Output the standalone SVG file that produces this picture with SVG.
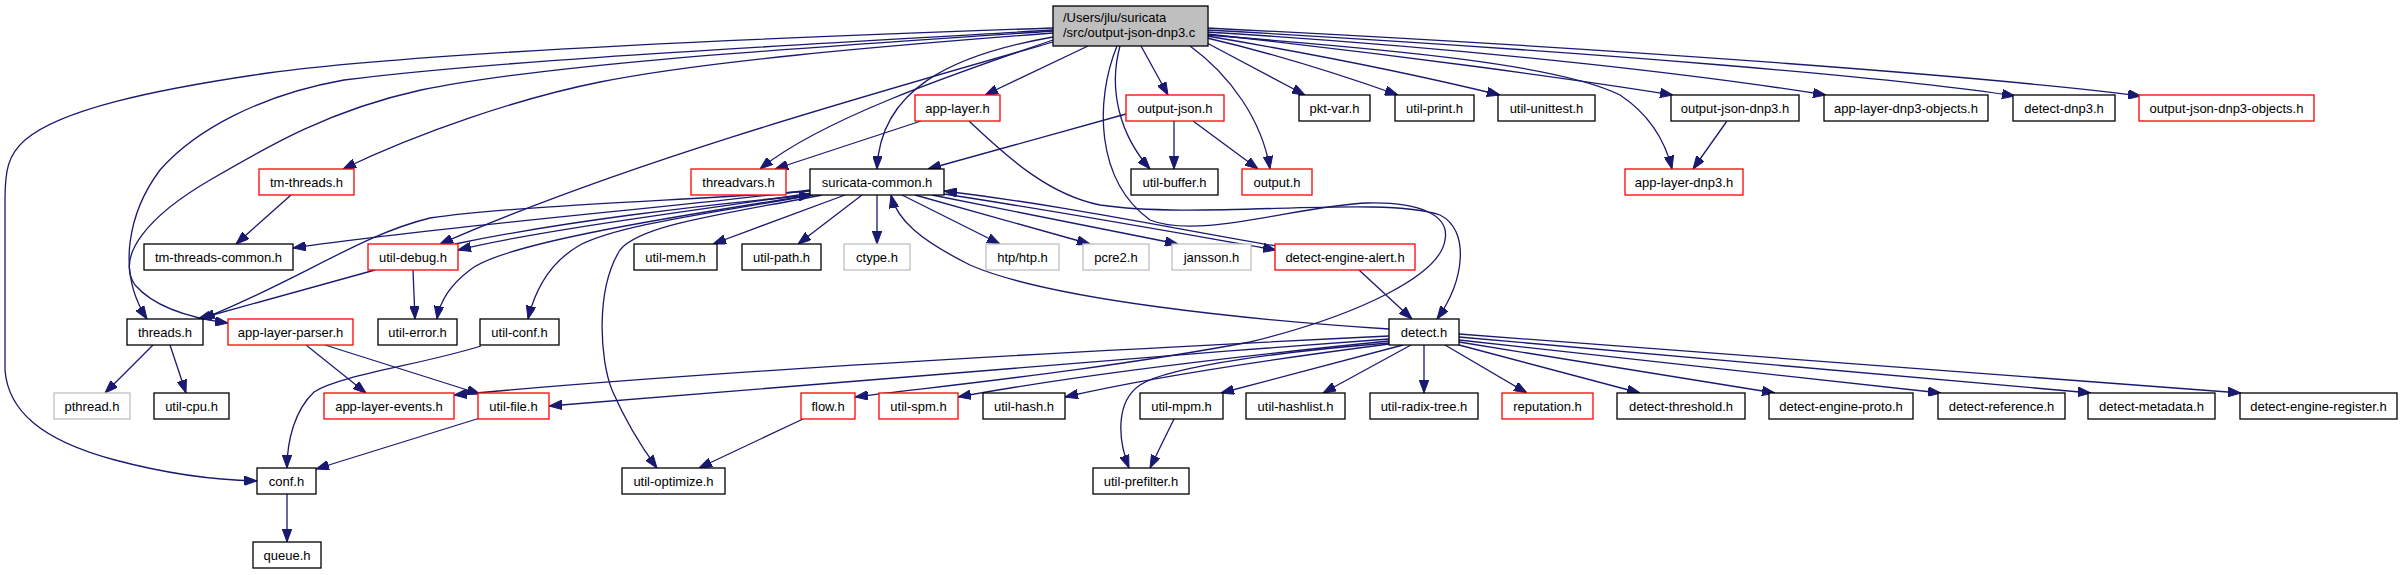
<svg xmlns="http://www.w3.org/2000/svg" width="2403" height="575" viewBox="0 0 2403 575">
<style>
.n rect{fill:#fff;stroke:#000;stroke-width:1.3}
.n.r rect{stroke:#ff0000}
.n.g rect{stroke:#bfbfbf}
.n.root rect{fill:#bfbfbf}
text{font-family:"Liberation Sans",Arial,Helvetica,sans-serif;font-size:13px;fill:#000;text-anchor:middle}
.root text{text-anchor:start}
#edges path{fill:none;stroke:#191970;stroke-width:1.3;marker-end:url(#a)}
</style>
<defs>
<marker id="a" viewBox="0 0 13 9.5" refX="13" refY="4.75" markerWidth="13" markerHeight="9.5" markerUnits="userSpaceOnUse" orient="auto">
<path d="M0,0 L13,4.75 L0,9.5 Z" fill="#191970" stroke="#191970" stroke-width="1"/>
</marker>
</defs>
<rect width="2403" height="575" fill="#fff"/>
<g id="edges">
<path d="M1053,33 C870,47 700,62 600,82 C520,98 420,132 343,169"/>
<path d="M1053,30 C800,45 500,60 344,80 C260,95 195,130 160,170 C130,210 115,270 147,319"/>
<path d="M1053,31 C820,47 560,62 421,90 C330,110 270,145 210,180 C150,215 115,255 135,285 C155,308 190,318 228,323"/>
<path d="M1053,28 C700,40 400,55 268,73 C150,90 60,110 25,140 C8,155 5,170 5,200 L5,370 C8,410 40,440 115,460 C160,472 210,480 257,481"/>
<path d="M1053,42 C850,100 620,165 440,244"/>
<path d="M1053,40 C950,75 820,120 760,169"/>
<path d="M1053,37 C950,55 880,90 877,169"/>
<path d="M1088,46 L985,95"/>
<path d="M1141,46 L1168,95"/>
<path d="M1120,46 C1108,90 1120,135 1150,169"/>
<path d="M1190,46 C1230,75 1262,120 1270,169"/>
<path d="M1207,43 L1305,95"/>
<path d="M1207,38 C1280,55 1350,78 1398,95"/>
<path d="M1207,36 C1320,55 1430,78 1500,95"/>
<path d="M1207,34 C1400,55 1580,80 1673,95"/>
<path d="M1207,32 C1500,50 1720,78 1826,95"/>
<path d="M1207,30 C1600,52 1900,78 2015,96"/>
<path d="M1207,28 C1650,50 2000,78 2141,96"/>
<path d="M1207,35 C1400,50 1560,65 1620,95 C1650,115 1665,140 1672,169"/>
<path d="M969,121 C1010,160 1050,195 1100,205 C1200,220 1380,195 1440,215 C1470,230 1465,280 1437,319"/>
<path d="M1117,46 C1095,100 1095,180 1150,220 C1200,240 1300,205 1368,203 C1420,202 1450,215 1445,240 C1440,275 1360,315 1250,342 C1100,370 950,385 855,397"/>
<path d="M1126,114 L928,169"/>
<path d="M1174,121 L1174,169"/>
<path d="M1193,121 L1258,169"/>
<path d="M921,121 L775,169"/>
<path d="M291,195 L236,244"/>
<path d="M1727,121 L1693,169"/>
<path d="M810,190 C700,205 450,225 293,248"/>
<path d="M812,193 C700,210 540,230 458,250"/>
<path d="M455,244 C560,222 700,205 812,195"/>
<path d="M810,191 C700,200 520,205 430,218 C360,235 300,280 202,319"/>
<path d="M812,195 C650,220 500,245 470,270 C450,285 440,300 437,319"/>
<path d="M813,195 C700,215 620,225 580,245 C550,262 535,290 528,319"/>
<path d="M822,195 C720,215 640,225 620,250 C595,290 600,360 612,390 C625,420 640,445 657,468"/>
<path d="M845,195 L713,244"/>
<path d="M862,195 L798,244"/>
<path d="M877,195 L877,244"/>
<path d="M902,195 L1000,244"/>
<path d="M915,195 L1090,244"/>
<path d="M932,195 L1178,244"/>
<path d="M944,194 C1050,210 1150,228 1276,250"/>
<path d="M1276,246 C1150,224 1060,205 944,191"/>
<path d="M1389,329 C1250,320 1050,300 970,265 C920,240 897,220 891,195"/>
<path d="M375,270 L198,319"/>
<path d="M413,270 L415,319"/>
<path d="M1359,270 L1412,319"/>
<path d="M153,345 L105,393"/>
<path d="M170,345 L186,393"/>
<path d="M306,345 L366,393"/>
<path d="M325,345 L480,394"/>
<path d="M481,346 C420,365 340,375 314,392 C295,410 287,440 287,468"/>
<path d="M480,418 L316,469"/>
<path d="M287,494 L287,542"/>
<path d="M803,419 L699,468"/>
<path d="M1174,419 L1150,468"/>
<path d="M1389,343 C1300,350 1170,365 1140,385 C1115,402 1118,440 1129,468"/>
<path d="M1389,336 C1100,350 700,372 454,395"/>
<path d="M1389,339 C1100,360 800,385 549,406"/>
<path d="M1389,341 C1200,360 1050,380 958,397"/>
<path d="M1389,344 C1250,362 1130,382 1065,397"/>
<path d="M1403,345 L1221,393"/>
<path d="M1411,345 L1323,393"/>
<path d="M1424,345 L1424,393"/>
<path d="M1445,345 L1527,393"/>
<path d="M1459,345 L1640,393"/>
<path d="M1459,342 L1775,393"/>
<path d="M1459,340 L1941,393"/>
<path d="M1459,337 L2091,393"/>
<path d="M1459,334 L2241,393"/>
</g>
<g id="root" class="n root"><rect x="1053" y="6" width="155" height="40"/><text x="1063" y="22">/Users/jlu/suricata</text><text x="1063" y="37">/src/output-json-dnp3.c</text></g>
<g id="app-layer" class="n r"><rect x="915" y="95" width="85" height="26"/><text x="957.5" y="113">app-layer.h</text></g>
<g id="output-json" class="n r"><rect x="1126" y="95" width="98" height="26"/><text x="1175" y="113">output-json.h</text></g>
<g id="pkt-var" class="n"><rect x="1299" y="95" width="71" height="26"/><text x="1334.5" y="113">pkt-var.h</text></g>
<g id="util-print" class="n"><rect x="1395" y="95" width="79" height="26"/><text x="1434.5" y="113">util-print.h</text></g>
<g id="util-unittest" class="n"><rect x="1498" y="95" width="97" height="26"/><text x="1546.5" y="113">util-unittest.h</text></g>
<g id="output-json-dnp3" class="n"><rect x="1671" y="95" width="128" height="26"/><text x="1735" y="113">output-json-dnp3.h</text></g>
<g id="app-layer-dnp3-objects" class="n"><rect x="1824" y="95" width="164" height="26"/><text x="1906" y="113">app-layer-dnp3-objects.h</text></g>
<g id="detect-dnp3" class="n"><rect x="2013" y="95" width="102" height="26"/><text x="2064" y="113">detect-dnp3.h</text></g>
<g id="output-json-dnp3-objects" class="n r"><rect x="2139" y="95" width="175" height="26"/><text x="2226.5" y="113">output-json-dnp3-objects.h</text></g>
<g id="tm-threads" class="n r"><rect x="259" y="169" width="95" height="26"/><text x="306.5" y="187">tm-threads.h</text></g>
<g id="threadvars" class="n r"><rect x="691" y="169" width="95" height="26"/><text x="738.5" y="187">threadvars.h</text></g>
<g id="suricata-common" class="n"><rect x="810" y="169" width="134" height="26"/><text x="877" y="187">suricata-common.h</text></g>
<g id="util-buffer" class="n"><rect x="1131" y="169" width="87" height="26"/><text x="1174.5" y="187">util-buffer.h</text></g>
<g id="output" class="n r"><rect x="1242" y="169" width="70" height="26"/><text x="1277" y="187">output.h</text></g>
<g id="app-layer-dnp3" class="n r"><rect x="1625" y="169" width="118" height="26"/><text x="1684" y="187">app-layer-dnp3.h</text></g>
<g id="tm-threads-common" class="n"><rect x="144" y="244" width="149" height="26"/><text x="218.5" y="262">tm-threads-common.h</text></g>
<g id="util-debug" class="n r"><rect x="368" y="244" width="90" height="26"/><text x="413" y="262">util-debug.h</text></g>
<g id="util-mem" class="n"><rect x="634" y="244" width="83" height="26"/><text x="675.5" y="262">util-mem.h</text></g>
<g id="util-path" class="n"><rect x="742" y="244" width="79" height="26"/><text x="781.5" y="262">util-path.h</text></g>
<g id="ctype" class="n g"><rect x="844" y="244" width="66" height="26"/><text x="877" y="262">ctype.h</text></g>
<g id="htp" class="n g"><rect x="986" y="244" width="73" height="26"/><text x="1022.5" y="262">htp/htp.h</text></g>
<g id="pcre2" class="n g"><rect x="1083" y="244" width="66" height="26"/><text x="1116" y="262">pcre2.h</text></g>
<g id="jansson" class="n g"><rect x="1172" y="244" width="79" height="26"/><text x="1211.5" y="262">jansson.h</text></g>
<g id="detect-engine-alert" class="n r"><rect x="1275" y="244" width="140" height="26"/><text x="1345" y="262">detect-engine-alert.h</text></g>
<g id="threads" class="n"><rect x="127" y="319" width="76" height="26"/><text x="165" y="337">threads.h</text></g>
<g id="app-layer-parser" class="n r"><rect x="228" y="319" width="125" height="26"/><text x="290.5" y="337">app-layer-parser.h</text></g>
<g id="util-error" class="n"><rect x="378" y="319" width="79" height="26"/><text x="417.5" y="337">util-error.h</text></g>
<g id="util-conf" class="n"><rect x="480" y="319" width="79" height="26"/><text x="519.5" y="337">util-conf.h</text></g>
<g id="detect" class="n"><rect x="1389" y="319" width="70" height="26"/><text x="1424" y="337">detect.h</text></g>
<g id="pthread" class="n g"><rect x="54" y="393" width="76" height="26"/><text x="92" y="411">pthread.h</text></g>
<g id="util-cpu" class="n"><rect x="154" y="393" width="75" height="26"/><text x="191.5" y="411">util-cpu.h</text></g>
<g id="app-layer-events" class="n r"><rect x="324" y="393" width="130" height="26"/><text x="389" y="411">app-layer-events.h</text></g>
<g id="util-file" class="n r"><rect x="478" y="393" width="71" height="26"/><text x="513.5" y="411">util-file.h</text></g>
<g id="flow" class="n r"><rect x="801" y="393" width="54" height="26"/><text x="828" y="411">flow.h</text></g>
<g id="util-spm" class="n r"><rect x="879" y="393" width="79" height="26"/><text x="918.5" y="411">util-spm.h</text></g>
<g id="util-hash" class="n"><rect x="983" y="393" width="82" height="26"/><text x="1024" y="411">util-hash.h</text></g>
<g id="util-mpm" class="n"><rect x="1140" y="393" width="83" height="26"/><text x="1181.5" y="411">util-mpm.h</text></g>
<g id="util-hashlist" class="n"><rect x="1246" y="393" width="99" height="26"/><text x="1295.5" y="411">util-hashlist.h</text></g>
<g id="util-radix-tree" class="n"><rect x="1370" y="393" width="108" height="26"/><text x="1424" y="411">util-radix-tree.h</text></g>
<g id="reputation" class="n r"><rect x="1502" y="393" width="91" height="26"/><text x="1547.5" y="411">reputation.h</text></g>
<g id="detect-threshold" class="n"><rect x="1617" y="393" width="128" height="26"/><text x="1681" y="411">detect-threshold.h</text></g>
<g id="detect-engine-proto" class="n"><rect x="1769" y="393" width="144" height="26"/><text x="1841" y="411">detect-engine-proto.h</text></g>
<g id="detect-reference" class="n"><rect x="1938" y="393" width="127" height="26"/><text x="2001.5" y="411">detect-reference.h</text></g>
<g id="detect-metadata" class="n"><rect x="2088" y="393" width="127" height="26"/><text x="2151.5" y="411">detect-metadata.h</text></g>
<g id="detect-engine-register" class="n"><rect x="2240" y="393" width="157" height="26"/><text x="2318.5" y="411">detect-engine-register.h</text></g>
<g id="conf" class="n"><rect x="257" y="468" width="59" height="26"/><text x="286.5" y="486">conf.h</text></g>
<g id="util-optimize" class="n"><rect x="622" y="468" width="103" height="26"/><text x="673.5" y="486">util-optimize.h</text></g>
<g id="util-prefilter" class="n"><rect x="1093" y="468" width="96" height="26"/><text x="1141" y="486">util-prefilter.h</text></g>
<g id="queue" class="n"><rect x="253" y="542" width="68" height="26"/><text x="287" y="560">queue.h</text></g>
</svg>
